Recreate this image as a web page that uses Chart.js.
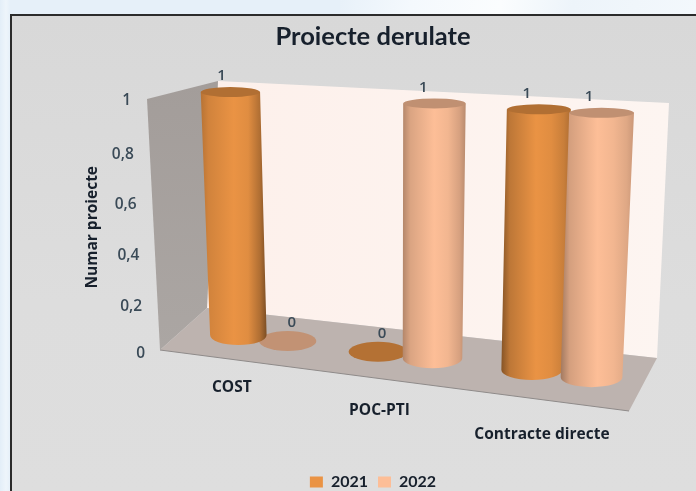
<!DOCTYPE html>
<html><head><meta charset="utf-8">
<style>
html,body{margin:0;padding:0;width:696px;height:491px;overflow:hidden;
background:linear-gradient(90deg,#E3EEF8 0,#EEF5FB 6px,#E6F0F9 10px);}
#top{position:absolute;left:340px;top:0;width:356px;height:14px;background:linear-gradient(100deg,#E8F1F9 0,#F4F9FD 20%,#FBFDFE 45%,#EDF4FA 65%,#F3F8FC 100%);}
#panel{position:absolute;left:10px;top:14px;width:690px;height:480px;box-sizing:border-box;border-left:2px solid #2b2b2b;border-top:2px solid #2b2b2b;background:linear-gradient(#D8D8D8,#DDDDDD 60%,#DEDEDE);}
canvas{position:absolute;left:0;top:0;}
</style>
<script src="https://cdn.jsdelivr.net/npm/chart.js@4"></script>
</head><body><div id="top"></div><div id="panel"></div>
<canvas id="c" width="696" height="500"></canvas>
<script>
const chartTitle = 'Proiecte derulate';
const yAxisTitle = 'Numar proiecte';
const categories = ['COST', 'POC-PTI', 'Contracte directe'];
const series2021 = [1, 0, 1];
const series2022 = [0, 1, 1];
const seriesNames = ['2021', '2022'];
const seriesColors = ['#EA9344', '#FDBE97'];
const FONT = 'Lato';
const AXFONT = '"Open Sans"';
const TEXT = '#17202c';
const AXIS_TEXT = '#3a4a57';

/* oblique projection of the scales onto the 3D plot */
function bottomX(u){ return 197 + 384*u + 64*u*u; }
function bottomY(xb){ return 335 + 0.119*(xb-237.5); }
function topX(xb){ return 229.5 + 1.051*(xb-237.5); }
function topY(xt){ return 92 + 0.056*(xt-229.5); }
function project(u, v){
  const xb = bottomX(u), xt = topX(xb), yb = bottomY(xb), yt = topY(xt);
  return {x: xb+(xt-xb)*v, y: yb+(yt-yb)*v, xb, yb, xt, yt};
}
function shade(hex, k){
  const n = parseInt(hex.slice(1),16);
  return `rgb(${(n>>16&255)*k|0},${(n>>8&255)*k|0},${(n&255)*k|0})`;
}
function mixK(a,b,t){ return a+(b-a)*t; }
function geom(el){
  const chart = el._owner.chart, a = chart.chartArea;
  const yS = chart.scales.y;
  const u = (el.x-a.left)/(a.right-a.left);
  const v = yS.getValueForPixel(el.y);
  const p = project(u, v);
  const rxB = el.width*(0.42+0.05*u), rxT = rxB*(1+0.05*v);
  const color = chart.data.datasets[el._owner.ds].backgroundColor;
  return {u, v, p, rxB, rxT, color};
}
function drawCylinder(ctx, el){
  const g = geom(el), {u,v,p,rxB,rxT,color} = g;
  const ryB = 10, ryT = 10-5*v;
  ctx.save();
  if (v <= 0.001){
    ctx.fillStyle = shade(color, 0.77);
    ctx.beginPath(); ctx.ellipse(p.xb, p.yb, rxB, ryB, 0, 0, Math.PI*2); ctx.fill();
    ctx.restore(); return;
  }
  const dk = color === seriesColors[0] ? 0.5 : 0.62;
  const left = Math.min(p.xb-rxB, p.x-rxT), right = Math.max(p.xb+rxB, p.x+rxT);
  const gr = ctx.createLinearGradient(left,0,right,0);
  const kL = mixK(0.82, dk, u), kR = mixK(0.82, dk, 1-u);
  gr.addColorStop(0, shade(color,kL));
  gr.addColorStop(0.12, shade(color,mixK(kL,0.97,0.6)));
  gr.addColorStop(0.5, shade(color,1));
  gr.addColorStop(0.72, shade(color,0.96));
  gr.addColorStop(0.9, shade(color,mixK(kR,0.97,0.5)));
  gr.addColorStop(1, shade(color,kR));
  ctx.fillStyle = gr;
  ctx.beginPath();
  ctx.moveTo(p.x-rxT, p.y);
  ctx.lineTo(p.xb-rxB, p.yb);
  ctx.ellipse(p.xb, p.yb, rxB, ryB, 0, Math.PI, 0, true);
  ctx.lineTo(p.x+rxT, p.y);
  ctx.closePath();
  ctx.fill();
  ctx.fillStyle = shade(color, 0.76);
  ctx.beginPath(); ctx.ellipse(p.x, p.y, rxT, ryT, 0, 0, Math.PI*2); ctx.fill();
  ctx.restore();
}
/* bars queue themselves so they can be painted back-to-front, left to right */
Chart.BarElement.prototype.draw = function(){
  if (this._owner) this._owner.chart.$queue.push(this);
};

const wallsPlugin = {
  id: 'walls',
  beforeDatasetsDraw(chart){
    const c = chart.ctx;
    chart.$queue = [];
    const metas = chart.getSortedVisibleDatasetMetas();
    metas.forEach(m => m.data.forEach(el => { el._owner = {chart, ds: m.index}; }));
    const poly = (pts, fill) => {
      c.fillStyle = fill; c.beginPath();
      pts.forEach((q,i)=> i? c.lineTo(q[0],q[1]) : c.moveTo(q[0],q[1]));
      c.closePath(); c.fill();
    };
    const back = c.createLinearGradient(207,0,669,0);
    back.addColorStop(0,'#FDF0EB'); back.addColorStop(1,'#FDF5F1');
    poly([[218,81],[669,103],[657,358],[207,308]], back);
    const lw = c.createLinearGradient(0,81,0,350);
    lw.addColorStop(0,'#A39D9A'); lw.addColorStop(1,'#ABA6A3');
    poly([[147,99],[218,81],[207,308],[160,350]], lw);
    poly([[160,350],[207,308],[657,358],[629,411]], '#BDB3AF');
    c.strokeStyle = '#8E8A89'; c.lineWidth = 1;
    c.beginPath(); c.moveTo(160,350); c.lineTo(629,411); c.stroke();
  },
  afterDatasetsDraw(chart){
    const c = chart.ctx, yS = chart.scales.y, xS = chart.scales.x, a = chart.chartArea;
    // flat discs lie on the floor, under every standing cylinder
    const q = chart.$queue.slice().sort((p,r) => p.x-r.x);
    q.filter(el => geom(el).v <= 0.001).forEach(el => drawCylinder(c, el));
    q.filter(el => geom(el).v > 0.001).forEach(el => drawCylinder(c, el));
    c.save();
    c.textBaseline = 'middle';
    // value labels
    c.font = `600 15px ${AXFONT}`; c.fillStyle = AXIS_TEXT; c.textAlign = 'center';
    chart.getSortedVisibleDatasetMetas().forEach(m => m.data.forEach((el,i) => {
      const g = geom(el), val = chart.data.datasets[m.index].data[i];
      if (g.v > 0.001) c.fillText(String(val), g.p.x-8.5-4.5*g.u, g.p.y-16);
      else c.fillText(String(val), g.p.xb+4, g.p.yb-18);
    }));
    // y tick labels, following the slanted wall edge
    c.font = `600 15.5px ${AXFONT}`; c.textAlign = 'right'; c.fillStyle = AXIS_TEXT;
    yS.ticks.forEach((t,i) => {
      const v = t.value, inner = v>0.01 && v<0.99;
      c.fillText(t.label, 131+(1-v)*14, yS.getPixelForTick(i)+(inner?3:0));
    });
    // category labels
    c.font = `bold 15.5px ${AXFONT}`; c.textAlign = 'center'; c.fillStyle = TEXT;
    xS.ticks.forEach((t,i) => {
      const u = (xS.getPixelForTick(i)-a.left)/(a.right-a.left), xb = bottomX(u);
      c.fillText(xS.getLabelForValue(t.value), xb-31+0.0385*(xb-262.75), 388+0.157*(xb-262.75));
    });
    c.restore();
  }
};

new Chart(document.getElementById('c'), {
  type: 'bar',
  data: {
    labels: categories,
    datasets: [
      {label: seriesNames[0], data: series2021, backgroundColor: seriesColors[0]},
      {label: seriesNames[1], data: series2022, backgroundColor: seriesColors[1]}
    ]
  },
  plugins: [wallsPlugin],
  options: {
    responsive: false,
    animation: false,
    layout: {padding: {left: 83, right: 50, top: 0, bottom: 0}},
    categoryPercentage: 0.73,
    barPercentage: 1,
    plugins: {
      tooltip: {enabled: false},
      title: {display: true, text: chartTitle, fullSize: false, color: TEXT,
        font: {family: FONT, size: 25.5, weight: 'bold'}, padding: {top: 21, bottom: 49}},
      legend: {position: 'bottom', fullSize: false,
        labels: {boxWidth: 13, boxHeight: 11, padding: 10, color: TEXT,
          font: {family: FONT, size: 16, weight: 'bold'}}}
    },
    scales: {
      x: {grid: {display: false}, border: {display: false}, ticks: {display: false},
        afterFit(s){ s.height = 110; }},
      y: {min: 0, max: 1, grid: {display: false}, border: {display: false},
        ticks: {display: false, stepSize: 0.2,
          callback: v => String(+v.toFixed(1)).replace('.', ',')},
        title: {display: true, text: yAxisTitle, color: TEXT, padding: 0,
          font: {family: AXFONT, size: 15.5, weight: 'bold'}},
        afterFit(s){ s.width = 17; }}
    }
  }
});
</script>
</body></html>
